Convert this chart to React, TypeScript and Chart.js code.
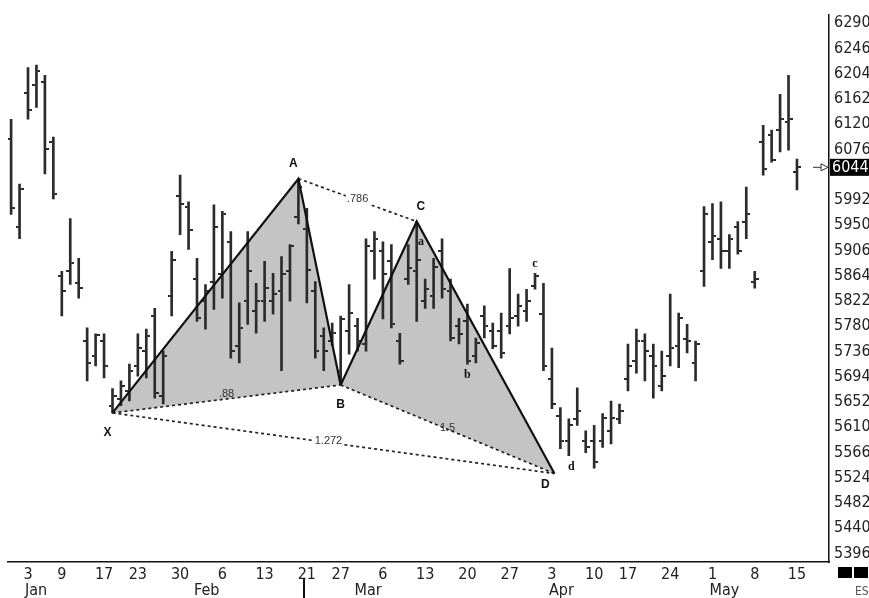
import React, { useEffect, useRef } from 'react';
import { Chart, registerables } from 'chart.js';

Chart.register(...registerables);

// ---- Data (trading-day index: 0 = Jan 3; first bar is Dec 29 at index -2) ----
const firstIndex = -2;

const highs = [
  6124, 6015, 6211, 6215, 6198, 6094, 5868, 5957, 5890, 5773,
  5763, 5763, 5671, 5684, 5712, 5763, 5771, 5806, 5734, 5902,
  6030, 5985, 5890, 5846, 5980, 5969, 5935, 5815, 5935, 5848,
  5885, 5865, 5893, 5913, 6024, 5974, 5851, 5773, 5781, 5793,
  5846, 5789, 5923, 5935, 5918, 5913, 5764, 5913, 5952, 5855,
  5890, 5923, 5855, 5789, 5813, 5756, 5810, 5781, 5798, 5873,
  5830, 5838, 5865, 5848, 5739, 5639, 5620, 5672, 5600, 5609,
  5629, 5650, 5645, 5746, 5771, 5763, 5746, 5734, 5830, 5798,
  5779, 5751, 5977, 5982, 5985, 5930, 5952, 6010, 5868, 6114,
  6106, 6166, 6198, 6057,
];
const lows = [
  5964, 5923, 6124, 6144, 6032, 5990, 5793, 5846, 5823, 5684,
  5709, 5689, 5630, 5642, 5650, 5692, 5689, 5655, 5645, 5793,
  5930, 5905, 5784, 5771, 5804, 5823, 5722, 5714, 5779, 5764,
  5784, 5796, 5701, 5818, 5948, 5815, 5722, 5701, 5743, 5677,
  5729, 5734, 5734, 5855, 5788, 5773, 5712, 5846, 5784, 5806,
  5806, 5823, 5751, 5746, 5712, 5714, 5756, 5738, 5722, 5763,
  5776, 5784, 5838, 5701, 5637, 5570, 5558, 5609, 5563, 5537,
  5572, 5578, 5612, 5667, 5697, 5684, 5655, 5667, 5709, 5706,
  5731, 5684, 5843, 5888, 5873, 5873, 5897, 5923, 5840, 6030,
  6052, 6069, 6072, 6005,
];
const opens = [
  6091, 5943, 6169, 6181, 6186, 6086, 5860, 5868, 5848, 5751,
  5726, 5751, 5642, 5654, 5667, 5709, 5734, 5793, 5659, 5826,
  5995, 5977, 5856, 5818, 5851, 5863, 5918, 5743, 5818, 5801,
  5818, 5818, 5835, 5868, 5960, 5940, 5835, 5759, 5751, 5701,
  5768, 5776, 5746, 5902, 5902, 5885, 5751, 5856, 5868, 5818,
  5826, 5902, 5835, 5776, 5784, 5726, 5793, 5768, 5768, 5776,
  5793, 5801, 5843, 5796, 5687, 5625, 5583, 5620, 5583, 5583,
  5583, 5600, 5620, 5687, 5717, 5751, 5726, 5676, 5726, 5743,
  5754, 5714, 5868, 5918, 5923, 5902, 5943, 5952, 5851, 6086,
  6097, 6106, 6119, 6036,
];
const closes = [
  5974, 6007, 6139, 6206, 6074, 5999, 5835, 5882, 5840, 5714,
  5761, 5709, 5659, 5676, 5701, 5739, 5759, 5664, 5726, 5888,
  5982, 5937, 5789, 5835, 5942, 5965, 5734, 5773, 5868, 5818,
  5840, 5830, 5863, 5910, 6010, 5871, 5734, 5734, 5764, 5788,
  5798, 5751, 5910, 5923, 5863, 5779, 5717, 5873, 5888, 5838,
  5876, 5838, 5756, 5763, 5717, 5748, 5776, 5743, 5731, 5789,
  5810, 5818, 5860, 5709, 5645, 5583, 5609, 5634, 5572, 5547,
  5622, 5622, 5634, 5709, 5751, 5734, 5709, 5692, 5739, 5789,
  5751, 5746, 5964, 5927, 5902, 5922, 5902, 5965, 5856, 6041,
  6056, 6124, 6124, 6044,
];

// Axis ticks
const yTickValues = [6290, 6246, 6204, 6162, 6120, 6076, 5992, 5950, 5906, 5864, 5822, 5780, 5736, 5694, 5652, 5610, 5566, 5524, 5482, 5440, 5396];
const dayTickIdx = [0, 4, 9, 13, 18, 23, 28, 33, 37, 42, 47, 52, 57, 62, 67, 71, 76, 81, 86, 91];
const dayTickLabels = ['3', '9', '17', '23', '30', '6', '13', '21', '27', '6', '13', '20', '27', '3', '10', '17', '24', '1', '8', '15'];
const monthIdx = [0, 20, 39, 62, 81];
const monthLabels = ['Jan', 'Feb', 'Mar', 'Apr', 'May'];
const markerIdx = 33;

// Harmonic pattern points (index, price)
const ptX = { x: 10, y: 5630 };
const ptA = { x: 32, y: 6024 };
const ptB = { x: 37, y: 5677 };
const ptC = { x: 46, y: 5952 };
const ptD = { x: 62.3, y: 5528 };
const ratioLabels = [
  { from: 'X', to: 'B', text: '.88' },
  { from: 'A', to: 'C', text: '.786' },
  { from: 'B', to: 'D', text: '1.5' },
  { from: 'X', to: 'D', text: '1.272' },
];
const smallLabels = [
  { text: 'a', x: 46.5, y: 5918 },
  { text: 'b', x: 52, y: 5694 },
  { text: 'c', x: 60, y: 5880 },
  { text: 'd', x: 64.3, y: 5540 },
];

const X_MIN = -2.367;
const X_MAX = 94.79;
const Y_MIN = 5379.2;
const Y_MAX = 6300.1;

const NARROW = '"Liberation Sans Narrow", "Arial Narrow", "DejaVu Sans Condensed", sans-serif';
const BAR_COLOR = '#2b2b2b';
const FILL_GRAY = '#c4c4c4';

export default function App() {
  const ref = useRef<HTMLCanvasElement>(null);

  useEffect(() => {
    const canvas = ref.current;
    if (!canvas) return;

    const makeTick = (side: 'left' | 'right') => {
      const c = document.createElement('canvas');
      c.width = 8;
      c.height = 2;
      const g = c.getContext('2d')!;
      g.fillStyle = BAR_COLOR;
      if (side === 'left') g.fillRect(0, 0, 3, 2);
      else g.fillRect(5, 0, 3, 2);
      return c;
    };
    const openImg = makeTick('left');
    const closeImg = makeTick('right');

    const pts: Record<string, { x: number; y: number }> = { X: ptX, A: ptA, B: ptB, C: ptC, D: ptD };

    const overlay = {
      id: 'overlay',
      afterDraw(chart: any) {
        const { ctx, scales, chartArea } = chart;
        const xs = scales.x;
        const ys = scales.y;
        const px = (p: { x: number; y: number }) => ({ x: xs.getPixelForValue(p.x), y: ys.getPixelForValue(p.y) });
        ctx.save();

        // ratio labels
        ctx.font = '11px "Liberation Sans", Arial, sans-serif';
        ctx.textAlign = 'center';
        ctx.textBaseline = 'middle';
        ratioLabels.forEach((r) => {
          const a = px(pts[r.from]);
          const b = px(pts[r.to]);
          let mx = (a.x + b.x) / 2;
          let my = (a.y + b.y) / 2;
          let bg: string | null = null;
          if (r.text === '.88') { my -= 5; }
          if (r.text === '.786') { my -= 1; bg = '#fff'; }
          if (r.text === '1.272') { mx -= 5; my -= 2; bg = '#fff'; }
          if (r.text === '1.5') { my -= 1; }
          const w = ctx.measureText(r.text).width;
          if (bg) {
            ctx.fillStyle = bg;
            ctx.fillRect(mx - w / 2 - 1, my - 6, w + 2, 12);
          }
          ctx.fillStyle = '#333';
          ctx.fillText(r.text, mx, my);
        });

        // pattern letters
        ctx.font = 'bold 12px "Liberation Sans", Arial, sans-serif';
        ctx.fillStyle = '#111';
        const letterOffsets: Record<string, [number, number]> = {
          X: [-5, 20], A: [-5, -15], B: [0, 20], C: [4, -15], D: [-9, 11],
        };
        Object.keys(pts).forEach((k) => {
          const p = px(pts[k]);
          const [dx, dy] = letterOffsets[k];
          ctx.fillText(k, p.x + dx, p.y + dy);
        });
        ctx.font = 'bold 12px "Liberation Serif", serif';
        smallLabels.forEach((s) => {
          const p = px(s);
          ctx.fillText(s.text, p.x, p.y);
        });

        // last price box and arrow
        const last = closes[closes.length - 1];
        const ly = ys.getPixelForValue(last);
        ctx.fillStyle = '#000';
        ctx.fillRect(chartArea.right + 1, ly - 8, 40, 17);
        ctx.fillStyle = '#fff';
        ctx.font = `16px ${NARROW}`;
        ctx.textAlign = 'left';
        ctx.fillText(String(last), chartArea.right + 3, ly + 1);
        ctx.strokeStyle = '#333';
        ctx.lineWidth = 1;
        ctx.beginPath();
        ctx.moveTo(chartArea.right - 16, ly + 0.5);
        ctx.lineTo(chartArea.right - 8, ly + 0.5);
        ctx.stroke();
        ctx.beginPath();
        ctx.moveTo(chartArea.right - 8, ly - 3);
        ctx.lineTo(chartArea.right - 1, ly + 0.5);
        ctx.lineTo(chartArea.right - 8, ly + 4);
        ctx.closePath();
        ctx.stroke();

        // month labels
        ctx.fillStyle = '#222';
        ctx.font = `16px ${NARROW}`;
        ctx.textAlign = 'left';
        ctx.textBaseline = 'middle';
        monthIdx.forEach((m, i) => {
          ctx.fillText(monthLabels[i], xs.getPixelForValue(m) - 3, chartArea.bottom + 29);
        });

        // marker line under axis
        ctx.strokeStyle = '#111';
        ctx.lineWidth = 2;
        const mxp = Math.round(xs.getPixelForValue(markerIdx)) - 3;
        ctx.beginPath();
        ctx.moveTo(mxp, chartArea.bottom + 17);
        ctx.lineTo(mxp, chart.height);
        ctx.stroke();

        // corner blocks and symbol
        ctx.fillStyle = '#000';
        ctx.fillRect(chartArea.right + 9, chartArea.bottom + 5, 14, 11);
        ctx.fillRect(chartArea.right + 25, chartArea.bottom + 5, 14, 11);
        ctx.fillStyle = '#555';
        ctx.font = `12px ${NARROW}`;
        ctx.fillText('ES', chartArea.right + 26, chartArea.bottom + 30);

        ctx.restore();
      },
    };

    const solid = { borderColor: '#111', borderWidth: 2.2, pointRadius: 0, tension: 0 };
    const dotted = { borderColor: '#222', borderWidth: 1.7, borderDash: [3, 3], pointRadius: 0, tension: 0, fill: false };

    const chart = new Chart(canvas, {
      type: 'bar',
      data: {
        datasets: [
          { type: 'line', data: [ptX, ptA, ptB], ...solid, fill: '+1', backgroundColor: FILL_GRAY, order: 1 } as any,
          { type: 'line', data: [ptX, ptB], ...dotted, order: 1 } as any,
          { type: 'line', data: [ptB, ptC, ptD], ...solid, fill: '+1', backgroundColor: FILL_GRAY, order: 1 } as any,
          { type: 'line', data: [ptB, ptD], ...dotted, order: 1 } as any,
          { type: 'line', data: [ptA, ptC], ...dotted, order: 1 } as any,
          { type: 'line', data: [ptX, ptD], ...dotted, order: 1 } as any,
          {
            type: 'bar',
            data: highs.map((h, i) => ({ x: firstIndex + i, y: [lows[i], h] })),
            backgroundColor: BAR_COLOR,
            barThickness: 2,
            borderWidth: 0,
            grouped: false,
            order: 3,
          } as any,
          {
            type: 'scatter',
            data: opens.map((o, i) => ({ x: firstIndex + i, y: o })),
            pointStyle: openImg,
            pointRadius: 3,
            order: 3,
          } as any,
          {
            type: 'scatter',
            data: closes.map((c, i) => ({ x: firstIndex + i, y: c })),
            pointStyle: closeImg,
            pointRadius: 3,
            order: 3,
          } as any,
        ],
      },
      options: {
        animation: false,
        responsive: false,
        events: [],
        layout: { padding: { left: 8, top: 12, right: 0, bottom: 0 } },
        plugins: {
          legend: { display: false },
          tooltip: { enabled: false },
          filler: { drawTime: 'beforeDatasetsDraw' },
        } as any,
        scales: {
          x: {
            type: 'linear',
            position: 'bottom',
            min: X_MIN,
            max: X_MAX,
            offset: false,
            grid: { display: false, drawTicks: false },
            border: { display: true, color: '#111', width: 1.5 },
            afterBuildTicks: (s: any) => { s.ticks = dayTickIdx.map((v) => ({ value: v })); },
            afterFit: (s: any) => { s.height = 36; },
            ticks: {
              autoSkip: false,
              maxRotation: 0,
              padding: 3,
              color: '#222',
              font: { family: NARROW, size: 16 },
              callback: (_v: any, i: number) => dayTickLabels[i],
            },
          },
          y: {
            type: 'linear',
            position: 'right',
            min: Y_MIN,
            max: Y_MAX,
            grid: { display: false, drawTicks: false },
            border: { display: true, color: '#111', width: 1.5 },
            afterBuildTicks: (s: any) => { s.ticks = yTickValues.map((v) => ({ value: v })); },
            afterFit: (s: any) => { s.width = 40; },
            ticks: {
              padding: 5,
              labelOffset: 2,
              color: '#222',
              font: { family: NARROW, size: 16 },
              callback: (v: any) => String(v),
            },
          },
        } as any,
      },
      plugins: [overlay as any],
    });

    return () => chart.destroy();
  }, []);

  return (
    <div style={{ position: 'fixed', left: 0, top: 0, width: 869, height: 598, background: '#fff' }}>
      <canvas ref={ref} width={869} height={598} style={{ display: 'block' }} />
    </div>
  );
}
